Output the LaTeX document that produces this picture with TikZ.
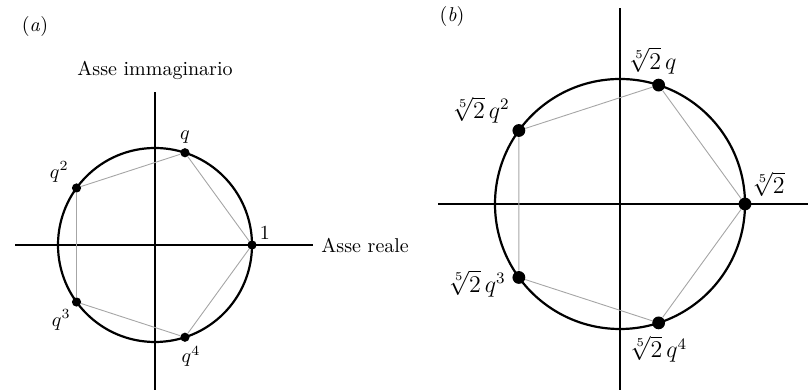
\documentclass[tikz,border=0pt]{standalone}
\usepackage{amsmath,amssymb}
\usepackage{xcolor}
\usepackage{tikz}
\usetikzlibrary{arrows.meta}
\usetikzlibrary{positioning}
\tikzset{
  ponto/.style={circle, fill=black, inner sep=0pt, minimum size=#1},
  ponto/.default=4.6pt,
  eixo/.style={line width=0.9pt},
  circulo/.style={line width=1.1pt},
  lado/.style={draw=gray!70, line width=0.45pt},
  rotulo/.style={inner sep=1pt, font=#1},
  rotulo/.default=\normalsize,
}

\begin{document}
\begin{tikzpicture}[x=0.5pt, y=0.5pt]
  \useasboundingbox (0,0) rectangle (809,390);
  % (a)
  \coordinate (oa) at (155,145);
  \coordinate (ha1) at (15,145);
  \coordinate (ha2) at (313,145);
  \coordinate (va1) at (155,0);
  \coordinate (va2) at (155,298);
  \node[rotulo] (tita) at (35,363) {(\textit{a})};
  \draw[eixo] (ha1) -- (ha2);
  \draw[eixo] (va1) -- (va2);
  \node[rotulo, right=3pt of ha2] (reale) {Asse reale};
  \node[rotulo, above=5pt of va2] (immag) {Asse immaginario};
  \draw[circulo] (oa) circle[radius=97];
  \node[ponto] (a0) at ([shift={(0:97)}]oa) {};
  \node[ponto] (a1) at ([shift={(72:97)}]oa) {};
  \node[ponto] (a2) at ([shift={(144:97)}]oa) {};
  \node[ponto] (a3) at ([shift={(216:97)}]oa) {};
  \node[ponto] (a4) at ([shift={(288:97)}]oa) {};
  \draw[lado] (a0) -- (a1) -- (a2) -- (a3) -- (a4) -- (a0);
  \node[rotulo, above right=0pt and 1pt of a0] (la0) {$1$};
  \node[rotulo, above=1pt of a1] (la1) {$q$};
  \node[rotulo, above left=0pt and 1pt of a2] (la2) {$q^2$};
  \node[rotulo, below left=1pt and 0pt of a3] (la3) {$q^3$};
  \node[rotulo, below=1pt of a4, xshift=3pt] (la4) {$q^4$};
  % (b)
  \coordinate (ob) at (620,186);
  \coordinate (hb1) at (438,186);
  \coordinate (hb2) at (808,186);
  \coordinate (vb1) at (620,0);
  \coordinate (vb2) at (620,382);
  \node[rotulo] (titb) at (452,373) {(\textit{b})};
  \draw[eixo] (hb1) -- (hb2);
  \draw[eixo] (vb1) -- (vb2);
  \draw[circulo] (ob) circle[radius=125];
  \node[ponto=6.4pt] (b0) at ([shift={(0:125)}]ob) {};
  \node[ponto=6.4pt] (b1) at ([shift={(72:125)}]ob) {};
  \node[ponto=6.4pt] (b2) at ([shift={(144:125)}]ob) {};
  \node[ponto=6.4pt] (b3) at ([shift={(216:125)}]ob) {};
  \node[ponto=6.4pt] (b4) at ([shift={(288:125)}]ob) {};
  \draw[lado] (b0) -- (b1) -- (b2) -- (b3) -- (b4) -- (b0);
  \node[rotulo=\large, above right=0pt and 0pt of b0] (lb0) {$\sqrt[5]{2}$};
  \node[rotulo=\large, above=1pt of b1, xshift=-3pt] (lb1) {$\sqrt[5]{2}\,q$};
  \node[rotulo=\large, above left=0pt and 1pt of b2] (lb2) {$\sqrt[5]{2}\,q^2$};
  \node[rotulo=\large, left=2pt of b3, yshift=-3pt] (lb3) {$\sqrt[5]{2}\,q^3$};
  \node[rotulo=\large, below=2pt of b4] (lb4) {$\sqrt[5]{2}\,q^4$};
\end{tikzpicture}
\end{document}
